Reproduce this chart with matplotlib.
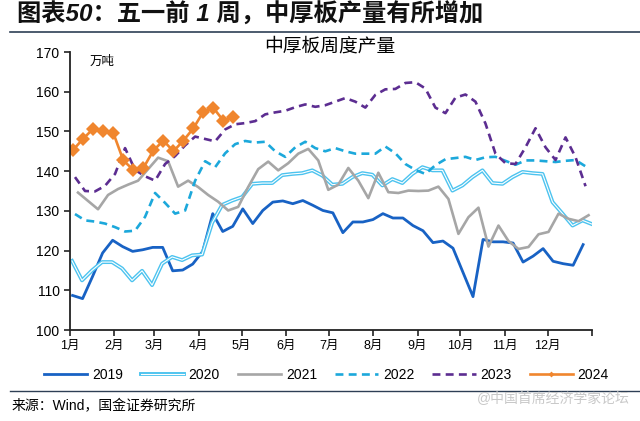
import matplotlib
matplotlib.use('Agg')
import matplotlib.pyplot as plt
import matplotlib.patheffects as pe
from matplotlib.lines import Line2D

plt.rcParams['font.family'] = ['Liberation Sans', 'Noto Sans CJK SC']

# weekly output, 10k tonnes
y2019 = [108.7, 107.9, 113.5, 119.4, 122.6, 121.0, 119.8, 120.2, 120.8, 120.8,
         114.9, 115.1, 116.6, 119.8, 129.3, 124.8, 126.1, 130.5, 126.8, 130.1,
         132.2, 132.5, 131.8, 132.6, 131.4, 130.1, 129.5, 124.5, 127.2, 127.2,
         127.8, 129.3, 128.2, 128.2, 126.3, 125.0, 122.0, 122.4, 120.6, 114.5,
         108.4, 122.8, 122.2, 122.2, 121.9, 117.1, 118.6, 120.5, 117.3, 116.7,
         116.3, 121.5]
y2020 = [117.4, 112.5, 115.0, 117.1, 117.1, 115.5, 112.5, 114.9, 111.3, 116.7,
         118.4, 117.6, 118.8, 119.0, 127.0, 131.5, 132.6, 133.5, 136.8, 137.0,
         137.0, 139.0, 139.3, 139.5, 140.2, 138.9, 136.6, 136.8, 138.5, 139.5,
         139.1, 136.4, 138.0, 137.0, 139.3, 141.0, 140.2, 140.2, 135.1, 136.4,
         138.5, 140.2, 137.0, 136.8, 138.5, 139.8, 139.5, 139.3, 132.2, 129.3,
         126.3, 127.6, 126.6]
y2021 = [134.6, 132.5, 130.4, 134.0, 135.5, 136.6, 137.6, 140.5, 143.4, 142.5,
         136.1, 137.6, 136.0, 134.0, 132.3, 130.1, 131.0, 136.0, 140.5, 142.4,
         140.2, 142.0, 144.4, 145.6, 142.7, 135.3, 136.6, 140.8, 137.6, 133.2,
         139.6, 134.7, 134.5, 135.1, 135.0, 135.1, 136.1, 133.0, 124.2, 128.4,
         130.8, 121.0, 126.3, 122.4, 120.4, 120.9, 124.1, 124.7, 129.3, 128.0,
         127.4, 128.9]
y2022 = [129.2, 127.6, 127.3, 126.8, 125.9, 124.8, 125.0, 128.5, 134.5, 132.0,
         129.3, 130.1, 137.6, 142.5, 141.0, 144.5, 146.8, 147.6, 147.2, 147.4,
         145.0, 143.6, 146.0, 147.4, 145.8, 145.0, 145.8, 145.0, 144.4, 144.4,
         144.4, 146.2, 144.5, 141.8, 140.3, 139.3, 141.5, 143.0, 143.3, 143.6,
         142.8, 143.5, 143.6, 142.6, 141.6, 142.7, 142.7, 142.5, 142.3, 142.6,
         142.8, 141.2]
y2023 = [138.5, 135.0, 134.9, 136.3, 139.3, 145.8, 140.3, 138.7, 137.6, 141.8,
         143.8, 146.5, 148.7, 148.1, 147.5, 150.5, 151.8, 152.1, 152.6, 154.3,
         154.8, 155.2, 156.1, 156.8, 156.2, 156.6, 157.5, 158.4, 157.5, 156.0,
         159.2, 160.6, 160.7, 162.2, 162.4, 160.8, 156.0, 154.6, 158.5, 159.3,
         157.5, 152.0, 144.4, 142.0, 141.8, 146.0, 150.8, 146.0, 142.8, 148.5,
         143.5, 136.2]
y2024 = [145.4, 148.2, 150.7, 150.0, 149.6, 142.7, 140.3, 140.8, 145.2, 147.7,
         145.0, 147.7, 150.8, 155.0, 155.9, 152.7, 153.7]

# day of year of each series' first weekly reading
first_day = {'2019': 1.8, '2020': 1.4, '2021': 5.6, '2022': 3.5, '2023': 3.5, '2024': 2.3}

month_days = [0, 31, 59, 90, 120, 151, 181, 212, 243, 273, 304, 334]
month_labels = ['1月', '2月', '3月', '4月', '5月', '6月', '7月', '8月', '9月', '10月', '11月', '12月']


def days(key, vals):
    return [first_day[key] + 7 * i for i in range(len(vals))]


fig = plt.figure(figsize=(6.4, 4.21), dpi=100)
ax = fig.add_axes([70 / 640, 1 - 330 / 421, 522 / 640, 278 / 421])

ax.plot(days('2019', y2019), y2019, color='#1862c4', lw=2.0, label='2019')
ax.plot(days('2020', y2020), y2020, color='white', lw=0.8, label='2020',
        path_effects=[pe.Stroke(linewidth=2.8, foreground='#4cc3ef'), pe.Normal()])
ax.plot(days('2021', y2021), y2021, color='#a6a6a6', lw=1.9, label='2021')
ax.plot(days('2022', y2022), y2022, color='#1ca8db', lw=1.9, ls=(0, (3, 2)), label='2022')
ax.plot(days('2023', y2023), y2023, color='#5c2d91', lw=1.9, ls=(0, (3, 2)), label='2023')
ax.plot(days('2024', y2024), y2024, color='#f0862e', lw=1.9, marker='D', ms=7,
        markeredgewidth=0, label='2024')

ax.set_xlim(0, 365)
ax.set_ylim(100, 170)
ax.set_yticks(range(100, 171, 10))
ax.set_xticks(month_days + [365])
ax.set_xticklabels(month_labels + [''])
ax.tick_params(axis='both', labelsize=10, length=4, width=1.2, color='#222222')
ax.tick_params(axis='x', labelsize=9, pad=3)
for s in ['top', 'right']:
    ax.spines[s].set_visible(False)
for s in ['left', 'bottom']:
    ax.spines[s].set_linewidth(1.3)
    ax.spines[s].set_color('#222222')

ax.text(20 / 522, 0.985, '万吨', transform=ax.transAxes, fontsize=9, va='top', ha='left')

leg = fig.legend(loc='center', bbox_to_anchor=(0.51, 1 - 375 / 421), ncol=6, frameon=False,
                 fontsize=10, handlelength=3.1, columnspacing=1.3, handletextpad=0.35)
for line in leg.get_lines():
    line.set_markersize(3)

fig.text(0.027, 1 - 15 / 421, '图表50：五一前 1 周，中厚板产量有所增加', fontsize=17.5,
         fontweight='bold', style='italic', va='center', ha='left', color='#111111')
fig.add_artist(Line2D([10 / 640, 1], [1 - 32 / 421] * 2, color='#2e3f55', lw=1.2))
fig.text(330 / 640, 1 - 47 / 421, '中厚板周度产量', fontsize=13.5, va='center', ha='center')
fig.add_artist(Line2D([10 / 640, 1], [1 - 391 / 421] * 2, color='#2e3f55', lw=1.0))
fig.text(12 / 640, 1 - 406 / 421, '来源：Wind，国金证券研究所', fontsize=10, va='center', ha='left')
fig.text(630 / 640, 1 - 399 / 421, '@中国首席经济学家论坛', fontsize=10, va='center', ha='right',
         color='#c8c8c8')

fig.savefig('out.png', dpi=100)
